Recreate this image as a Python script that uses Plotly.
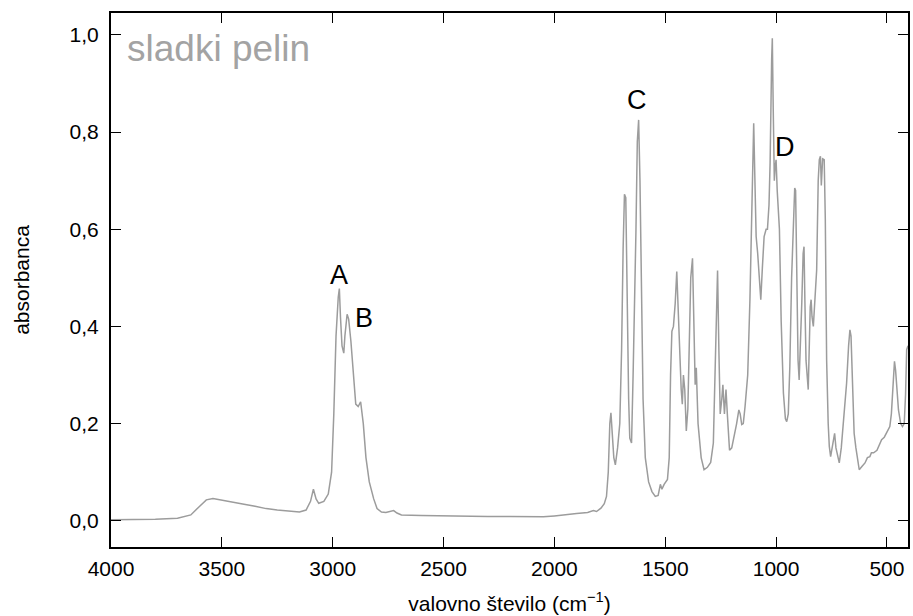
import plotly.graph_objects as go

# IR spectrum (wavenumber in cm-1, absorbance)
wavenumber = [
    4000, 3900, 3800, 3700, 3640, 3600, 3570, 3540, 3500, 3450, 3400, 3350, 3300,
    3250, 3200, 3150, 3120, 3100, 3087, 3075, 3063, 3040, 3020, 3005, 2995, 2985,
    2975, 2970, 2965, 2958, 2950, 2945, 2935, 2928, 2918, 2905, 2896, 2885, 2874,
    2862, 2850, 2835, 2815, 2800, 2780, 2760, 2740, 2725, 2710, 2690, 2600, 2500,
    2400, 2300, 2200, 2100, 2050, 2000, 1950, 1900, 1850,
    1824, 1810, 1790, 1775, 1765, 1757, 1750, 1745, 1740, 1732, 1725, 1715, 1705,
    1697, 1690, 1684, 1678, 1672, 1665, 1660, 1652, 1645, 1638, 1632, 1626, 1620,
    1614, 1608, 1600, 1590, 1575, 1560, 1545, 1532, 1522, 1515, 1505, 1490, 1482,
    1476, 1470, 1463, 1455, 1448, 1442, 1435, 1428, 1423, 1418, 1412, 1405, 1398,
    1392, 1385, 1377, 1370, 1365, 1360, 1352, 1338, 1325, 1310, 1295, 1283, 1273,
    1264, 1258, 1252, 1245, 1240, 1233, 1226, 1220, 1210, 1200, 1190, 1178, 1168,
    1162, 1155, 1148, 1140, 1128, 1118, 1108, 1101, 1096, 1090, 1083, 1075, 1069,
    1062, 1054, 1045, 1039, 1032, 1027, 1020, 1017, 1013, 1008, 1004, 1000, 995,
    985, 977, 967, 958, 952, 945, 938, 930, 922, 916, 912, 906, 901, 896, 890, 884,
    878, 874, 870, 865, 855, 850, 846, 842, 838, 832, 825, 817, 810, 805, 800, 796,
    790, 783, 778, 772, 765, 760, 754, 746, 740, 736, 730, 724, 715, 706, 697, 690,
    682, 673, 667, 662, 656, 648, 640, 632, 625, 612, 599, 588, 577, 570, 560, 545,
    535, 524, 512, 502, 487, 480, 475, 470, 466, 461, 455, 448, 438, 430, 422, 416,
    411, 405,
]
absorbance = [
    0.002, 0.002, 0.003, 0.005, 0.012, 0.030, 0.043, 0.046, 0.043, 0.038, 0.034, 0.030, 0.025,
    0.022, 0.020, 0.018, 0.022, 0.040, 0.065, 0.045, 0.036, 0.040, 0.055, 0.10, 0.22, 0.38,
    0.46, 0.478, 0.42, 0.36, 0.345, 0.38, 0.425, 0.415, 0.37, 0.30, 0.24, 0.235, 0.245,
    0.20, 0.13, 0.08, 0.045, 0.025, 0.018, 0.017, 0.019, 0.021, 0.016, 0.012, 0.011, 0.010,
    0.010, 0.009, 0.009, 0.009, 0.008, 0.010, 0.013, 0.015, 0.017,
    0.021, 0.019, 0.026, 0.035, 0.05, 0.10, 0.20, 0.222, 0.18, 0.13, 0.115, 0.15, 0.20,
    0.35, 0.56, 0.672, 0.665, 0.45, 0.25, 0.17, 0.16, 0.30, 0.45, 0.60, 0.78, 0.825,
    0.70, 0.45, 0.25, 0.13, 0.08, 0.06, 0.05, 0.052, 0.075, 0.065, 0.075, 0.085, 0.13,
    0.30, 0.39, 0.40, 0.448, 0.513, 0.44, 0.32, 0.27, 0.24, 0.30, 0.27, 0.185, 0.23,
    0.36, 0.50, 0.54, 0.33, 0.28, 0.315, 0.20, 0.13, 0.105, 0.11, 0.12, 0.16, 0.35,
    0.515, 0.35, 0.22, 0.25, 0.28, 0.22, 0.27, 0.22, 0.145, 0.15, 0.17, 0.20, 0.228,
    0.22, 0.198, 0.20, 0.235, 0.30, 0.455, 0.70, 0.818, 0.71, 0.585, 0.55, 0.503, 0.455,
    0.52, 0.585, 0.60, 0.60, 0.65, 0.736, 0.95, 0.993, 0.85, 0.70, 0.73, 0.743, 0.68,
    0.60, 0.41, 0.263, 0.21, 0.204, 0.22, 0.318, 0.50, 0.59, 0.685, 0.68, 0.50, 0.331, 0.29, 0.36, 0.45,
    0.55, 0.564, 0.45, 0.33, 0.27, 0.38, 0.44, 0.455, 0.42, 0.40, 0.45, 0.516, 0.70, 0.743, 0.75, 0.69,
    0.745, 0.743, 0.62, 0.33, 0.20, 0.153, 0.132, 0.155, 0.17, 0.18, 0.15, 0.135, 0.119, 0.15, 0.194, 0.24,
    0.283, 0.36, 0.393, 0.38, 0.283, 0.18, 0.15, 0.12, 0.105, 0.112, 0.119, 0.13, 0.132, 0.14, 0.14, 0.145,
    0.155, 0.167, 0.172, 0.18, 0.194, 0.22, 0.256, 0.30, 0.328, 0.31, 0.26, 0.228, 0.20, 0.194, 0.20, 0.26,
    0.352, 0.36,
]

# peak labels
peak_names = ["A", "B", "C", "D"]
peak_x = [2973, 2860, 1626, 962]
peak_y = [0.506, 0.418, 0.866, 0.77]

x_ticks = [4000, 3500, 3000, 2500, 2000, 1500, 1000, 500]
y_ticks = [0.0, 0.2, 0.4, 0.6, 0.8, 1.0]

FONT = "Liberation Sans, Arial, sans-serif"

fig = go.Figure()
fig.add_trace(go.Scatter(
    x=wavenumber, y=absorbance, mode="lines",
    line=dict(color="#9c9c9c", width=1.5),
    showlegend=False,
))

for name, px_, py_ in zip(peak_names, peak_x, peak_y):
    fig.add_annotation(x=px_, y=py_, text=name, showarrow=False,
                       font=dict(size=27, color="black", family=FONT))

fig.add_annotation(xref="paper", yref="paper", x=0.017, y=0.975,
                   xanchor="left", yanchor="top", text="sladki pelin",
                   showarrow=False, font=dict(size=37, color="#a3a3a3", family=FONT))

axis_style = dict(
    showline=True, linecolor="black", linewidth=2, mirror="ticks",
    ticks="inside", ticklen=10, tickwidth=1, tickcolor="black",
    showgrid=False, zeroline=False, automargin=False,
    tickfont=dict(size=21, color="black", family=FONT),
)

fig.update_xaxes(range=[4000, 405], tickvals=x_ticks, ticklabelstandoff=2,
                 title=dict(text="valovno število (cm<sup>−1</sup>)", standoff=17,
                            font=dict(size=21, color="black", family=FONT)),
                 **axis_style)
fig.update_yaxes(range=[-0.054, 1.045], tickvals=y_ticks, tickformat=".1f",
                 ticklabelstandoff=6,
                 title=dict(text="absorbanca", standoff=34,
                            font=dict(size=21, color="black", family=FONT)),
                 **axis_style)

fig.update_layout(
    width=913, height=616,
    margin=dict(l=111, r=5, t=13, b=69),
    paper_bgcolor="white", plot_bgcolor="white",
    separators=",.",
    font=dict(family=FONT),
)

# drop the browser's default page margin so the figure sits at the window origin
fig.write_html("out.html", config={"displayModeBar": False},
               post_script="document.body.style.margin = '0';")
